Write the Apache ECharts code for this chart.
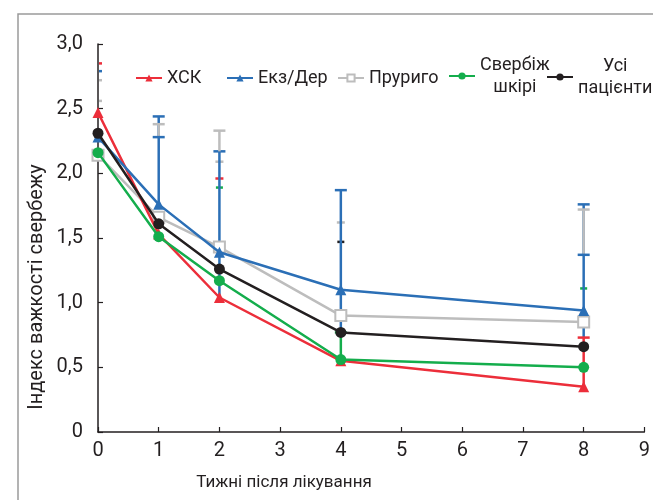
<!DOCTYPE html>
<html>
<head>
<meta charset="utf-8">
<script src="https://cdn.jsdelivr.net/npm/echarts@6/dist/echarts.min.js"></script>
<style>
  html, body { margin: 0; padding: 0; background: #fff; }
  #chart { width: 653px; height: 500px; }
</style>
</head>
<body>
<div id="chart"></div>
<script>
// weeks after treatment
const weeks = [0, 1, 2, 4, 8];

// mean itch severity index per group
const xskValues = [2.47, 1.53, 1.04, 0.55, 0.35];
const ekzValues = [2.28, 1.76, 1.39, 1.10, 0.94];
const prurigoValues = [2.14, 1.66, 1.43, 0.90, 0.85];
const itchValues = [2.16, 1.51, 1.17, 0.56, 0.50];
const allValues = [2.31, 1.61, 1.26, 0.77, 0.66];

// error bars: [week, stem from, stem to (cap)]
const ekzBars = [[1, 1.76, 2.44], [2, 1.04, 2.17], [4, 0.77, 1.87], [8, 0.73, 1.76]];
const prurigoBars = [[1, 2.28, 2.38], [2, 2.17, 2.33], [8, 1.37, 1.72]];
const itchBars = [[4, 0.56, 0.77]];
const xskBars = [[8, 0.35, 0.73]];
const ekzCaps = [[1, 2.28, 2.28], [8, 1.37, 1.37]];

// small cap ticks whose stems are hidden: [week, value, value]
const xskTicks = [[0, 2.85, 2.85], [2, 1.96, 1.96]];
const ekzTicks = [[0, 2.79, 2.79]];
const prurigoTicks = [[0, 2.72, 2.72], [0, 2.56, 2.56], [2, 2.09, 2.09], [4, 1.62, 1.62]];
const itchTicks = [[2, 1.89, 1.89], [8, 1.11, 1.11]];
const allTicks = [[4, 1.47, 1.47]];

const RED = '#ec2e3a';
const BLUE = '#2b6fb6';
const GREY = '#bdbdbd';
const GREEN = '#14ad4c';
const BLACK = '#231f20';
const FONT = 'Roboto';

const pairs = (vals) => weeks.map((w, i) => [w, vals[i]]);

const errSeries = (items, color, capW, z) => ({
  type: 'custom',
  silent: true,
  z: z,
  data: items,
  encode: { x: 0, y: [1, 2] },
  renderItem: (params, api) => {
    const x = api.value(0);
    const lo = api.coord([x, api.value(1)]);
    const hi = api.coord([x, api.value(2)]);
    const st = { stroke: color, lineWidth: 2.5 };
    // caps sitting on the y axis show only their right half
    const left = Math.max(hi[0] - capW / 2, params.coordSys.x + 1);
    const children = [{
      type: 'line',
      shape: { x1: left, y1: hi[1], x2: hi[0] + capW / 2, y2: hi[1] },
      style: st
    }];
    if (lo[1] - hi[1] > 0.5) {
      children.push({ type: 'line', shape: { x1: lo[0], y1: lo[1], x2: hi[0], y2: hi[1] }, style: st });
    }
    return { type: 'group', children: children };
  }
});

const lineSeries = (name, vals, color, symbol, size, z, extra) => Object.assign({
  name: name,
  type: 'line',
  z: z,
  data: pairs(vals),
  symbol: symbol,
  symbolSize: size,
  lineStyle: { color: color, width: 2.5 },
  itemStyle: { color: color, opacity: 1 },
  emphasis: { disabled: true },
  animation: false
}, extra || {});

const legendAt = (name, left, top) => ({
  data: [name],
  left: left,
  top: top,
  itemWidth: 26,
  itemHeight: 9,
  selectedMode: false,
  textStyle: {
    fontFamily: FONT, fontSize: 18, color: BLACK, lineHeight: 22,
    rich: { c: { align: 'center', fontFamily: FONT, fontSize: 18, color: BLACK, lineHeight: 22 } }
  },
  formatter: (n) => n.indexOf('\n') >= 0 ? n.split('\n').map(s => '{c|' + s + '}').join('\n') : n
});

const chart = echarts.init(document.getElementById('chart'));
chart.setOption({
  animation: false,
  backgroundColor: '#fff',
  grid: { left: 98, right: 5, top: 44, bottom: 68 },
  xAxis: {
    type: 'value', min: 0, max: 9, interval: 1,
    axisLine: { lineStyle: { color: BLACK, width: 1.5 } },
    axisTick: { inside: true, length: 5, lineStyle: { color: BLACK, width: 1.2 } },
    axisLabel: { color: BLACK, fontFamily: FONT, fontSize: 20, margin: 9 },
    splitLine: { show: false }
  },
  yAxis: {
    type: 'value', min: 0, max: 3, interval: 0.5,
    axisLine: { show: true, lineStyle: { color: BLACK, width: 1.5 } },
    axisTick: { show: true, inside: true, length: 5, lineStyle: { color: BLACK, width: 1.2 } },
    axisLabel: {
      color: BLACK, fontFamily: FONT, fontSize: 20, margin: 15,
      formatter: (v) => v === 0 ? '0' : v.toFixed(1).replace('.', ',')
    },
    splitLine: { show: false }
  },
  legend: [
    legendAt('ХСК', 130, 62),
    legendAt('Екз/Дер', 221, 62),
    legendAt('Пруриго', 332, 62),
    legendAt('Свербіж\nшкірі', 443, 49),
    legendAt('Усі\nпацієнти', 541, 50)
  ],
  graphic: [
    {
      type: 'polyline', silent: true,
      shape: { points: [[18, 500], [18, 14], [653, 14]] },
      style: { stroke: '#9a9a9a', lineWidth: 1.5, fill: null }
    },
    {
      type: 'text', x: 37, y: 287, rotation: Math.PI / 2, silent: true,
      style: { text: 'Індекс важкості свербежу', align: 'center', verticalAlign: 'middle',
        fontFamily: FONT, fontSize: 20, fill: BLACK }
    },
    {
      type: 'text', x: 284, y: 483, silent: true,
      style: { text: 'Тижні після лікування', align: 'center', verticalAlign: 'middle',
        fontFamily: FONT, fontSize: 17, fill: BLACK }
    }
  ],
  series: [
    errSeries(xskTicks, RED, 8, 1),
    errSeries(ekzTicks, BLUE, 8, 1),
    errSeries(prurigoTicks, GREY, 8, 1),
    errSeries(itchTicks, GREEN, 7, 1),
    errSeries(allTicks, BLACK, 7, 1),
    errSeries(ekzBars, BLUE, 12, 2),
    errSeries(prurigoBars, GREY, 12, 3),
    errSeries(itchBars, GREEN, 12, 3),
    errSeries(xskBars, RED, 12, 3),
    errSeries(ekzCaps, BLUE, 12, 4),
    lineSeries('Пруриго', prurigoValues, GREY, 'rect', 11, 5,
      { itemStyle: { color: '#fff', borderColor: GREY, borderWidth: 2, opacity: 1 } }),
    lineSeries('ХСК', xskValues, RED, 'triangle', 11, 6),
    lineSeries('Свербіж\nшкірі', itchValues, GREEN, 'circle', 11, 7),
    lineSeries('Екз/Дер', ekzValues, BLUE, 'triangle', 11, 8),
    lineSeries('Усі\nпацієнти', allValues, BLACK, 'circle', 11, 9)
  ]
});
</script>
</body>
</html>
